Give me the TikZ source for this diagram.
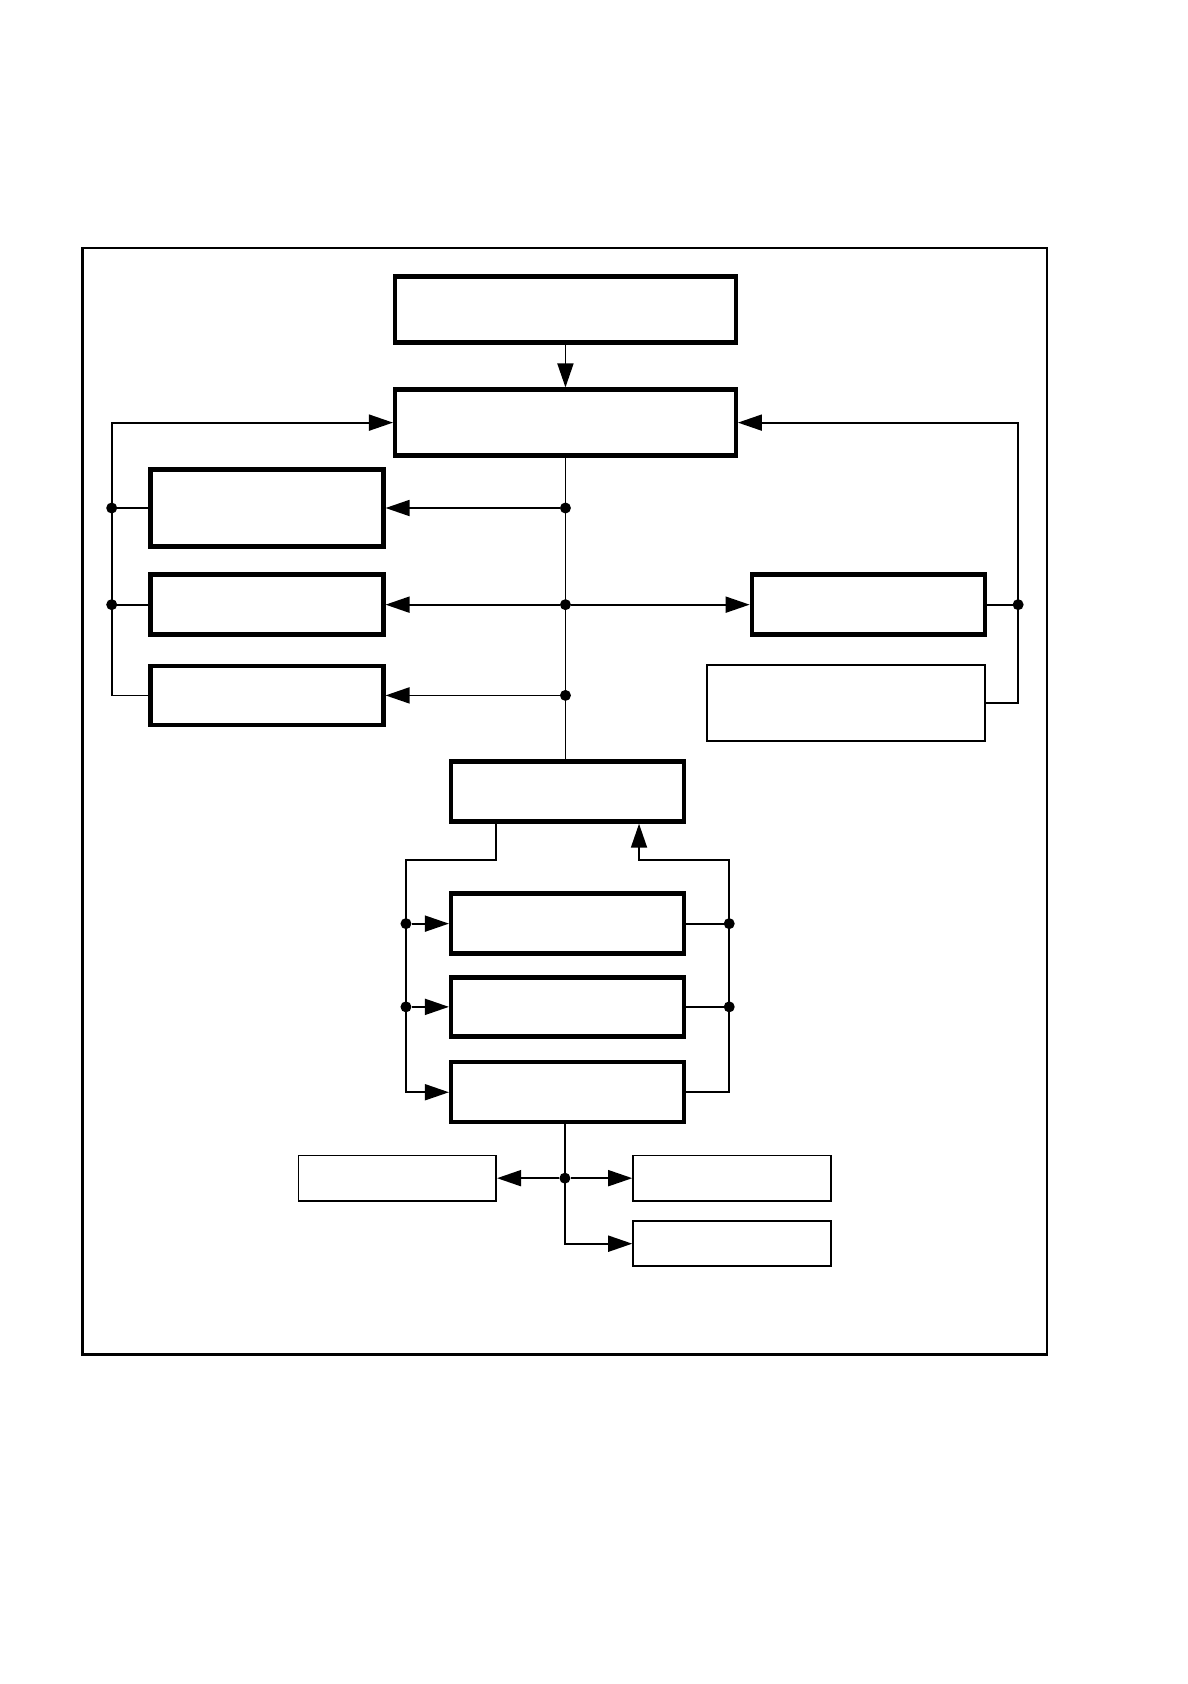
\documentclass[tikz,border=0pt]{standalone}
\usepackage{tikz}
\usetikzlibrary{arrows.meta}

\begin{document}
\begin{tikzpicture}[
      x=0.5371pt, y=-0.5371pt,
      tbox/.style={draw, line width=2.2pt, inner sep=0pt, minimum width=116.5pt,
                   minimum height=30pt},
      wbox/.style={tbox, minimum width=170.3pt, minimum height=33pt},
      fbox/.style={draw, line width=0.9pt, inner sep=0pt, minimum width=98.8pt,
                   minimum height=22.6pt},
      ln/.style={line width=0.9pt},
      ar/.style={ln, -{Triangle[length=12pt, width=8pt]}},
      dot/.style={circle, fill, inner sep=0pt, minimum size=5.5pt}
    ]
    \useasboundingbox (0,0) rectangle (1106,1568);
    \draw[line width=1.2pt] (77,231) rectangle (975,1261);
    \node[wbox] (a) at (526.5,288) {};
    \node[wbox] (b) at (526.5,393.5) {};
    \node[tbox, minimum height=38.7pt] (l1) at (248.5,473) {};
    \node[tbox] (l2) at (248.5,563) {};
    \node[tbox, minimum height=29.5pt] (l3) at (248.5,647.5) {};
    \node[tbox] (r1) at (808.5,563) {};
    \node[fbox, minimum width=139.1pt, minimum height=38.1pt] (r2) at (787.5,654.5) {};
    \node[tbox] (c) at (528.5,737) {};
    \node[tbox] (d1) at (528.5,860) {};
    \node[tbox, minimum height=29.5pt] (d2) at (528.5,937.5) {};
    \node[tbox] (d3) at (528.5,1017) {};
    \node[fbox] (e1) at (370,1097) {};
    \node[fbox] (e2) at (681.5,1097) {};
    \node[fbox] (e3) at (681.5,1158) {};
    \coordinate (lbus) at (104,393.5);
    \coordinate (rbus) at (948,393.5);
    \coordinate (dl) at (378,801);
    \coordinate (dr) at (679,801);
    \coordinate (cl) at (462,801);
    \coordinate (cr) at (595,801);
    \coordinate (db) at (526,1045);
    \draw[ar] (a) -- (b);
    \draw[ar] (l3.west) -| (lbus) -- (b.west);
    \draw[ln] (l1.west) -- (l1.west -| lbus) node[dot] (jl1) {};
    \draw[ln] (l2.west) -- (l2.west -| lbus) node[dot] (jl2) {};
    \draw[ln] (b.south) -- (b.south |- c.north);
    \node[dot] (jc1) at (b.south |- l1.east) {};
    \node[dot] (jc2) at (b.south |- l2.east) {};
    \node[dot] (jc3) at (b.south |- l3.east) {};
    \draw[ar] (jc1) -- (l1.east);
    \draw[ar] (jc2) -- (l2.east);
    \draw[ar] (jc3) -- (l3.east);
    \draw[ar] (jc2) -- (r1.west);
    \draw[ar] (r2.east) -| (rbus) -- (b.east);
    \draw[ln] (r1.east) -- (r1.east -| rbus) node[dot] (jr1) {};
    \draw[ar] (c.south -| cl) |- (dl) |- (d3.west);
    \node[dot] (jd1) at (d1.west -| dl) {};
    \node[dot] (jd2) at (d2.west -| dl) {};
    \draw[ar] (jd1) -- (d1.west);
    \draw[ar] (jd2) -- (d2.west);
    \draw[ar] (d3.east) -| (dr) -| (c.south -| cr);
    \draw[ln] (d1.east) -- (d1.east -| dr) node[dot] (je1) {};
    \draw[ln] (d2.east) -- (d2.east -| dr) node[dot] (je2) {};
    \draw[ar] (db) |- (e3.west);
    \node[dot] (jb) at (db |- e1.east) {};
    \draw[ar] (jb) -- (e1.east);
    \draw[ar] (jb) -- (e2.west);
  \end{tikzpicture}
\end{document}
